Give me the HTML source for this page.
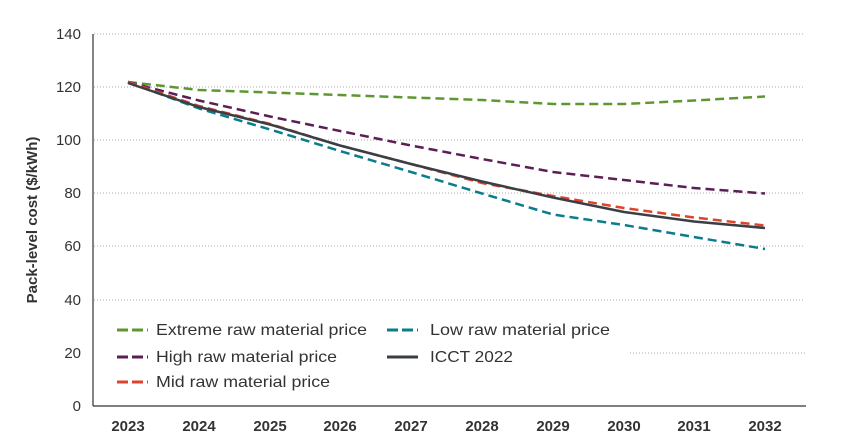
<!DOCTYPE html><html><head><style>body{margin:0;background:#fff}svg{display:block;font-family:"Liberation Sans",sans-serif}</style></head><body>
<svg width="847" height="446" viewBox="0 0 847 446">
<g stroke="#aaa" stroke-width="1" stroke-dasharray="1,2">
<line x1="94" y1="34" x2="805" y2="34"/><line x1="94" y1="87" x2="805" y2="87"/><line x1="94" y1="140" x2="805" y2="140"/><line x1="94" y1="193" x2="805" y2="193"/><line x1="94" y1="246" x2="805" y2="246"/><line x1="94" y1="300" x2="805" y2="300"/><line x1="630" y1="353" x2="805" y2="353"/>
</g>
<line x1="93" y1="34" x2="93" y2="406" stroke="#333" stroke-width="1.2"/>
<line x1="93" y1="406" x2="806" y2="406" stroke="#333" stroke-width="1.2"/>
<g font-size="15" fill="#333" text-anchor="end">
<text x="81" y="39">140</text><text x="81" y="92">120</text><text x="81" y="145">100</text><text x="81" y="198">80</text><text x="81" y="251">60</text><text x="81" y="305">40</text><text x="81" y="358">20</text><text x="81" y="411">0</text></g>
<g font-size="15" font-weight="bold" fill="#333" text-anchor="middle">
<text x="128" y="431">2023</text><text x="199" y="431">2024</text><text x="270" y="431">2025</text><text x="340" y="431">2026</text><text x="411" y="431">2027</text><text x="482" y="431">2028</text><text x="553" y="431">2029</text><text x="624" y="431">2030</text><text x="694" y="431">2031</text><text x="765" y="431">2032</text></g>
<text transform="translate(37,220) rotate(-90)" font-size="15" font-weight="bold" fill="#333" text-anchor="middle">Pack-level cost ($/kWh)</text>
<g fill="none" stroke-width="2.5">
<polyline stroke="#5e9732" stroke-dasharray="9,5" points="128,82 199,90 270,92.5 340,95 411,97.5 482,100 553,104 624,104 694,100.5 765,96.5"/>
<polyline stroke="#5c1f55" stroke-dasharray="9,5" points="128,82 199,100.5 270,116.5 340,131 411,145.5 482,159 553,172 624,180 694,188 765,193.5"/>
<polyline stroke="#0a7c8c" stroke-dasharray="9,5" points="128,82 199,108.5 270,129.5 340,151 411,172 482,193.5 553,214.5 624,225 694,237 765,249"/>
<polyline stroke="#e0432c" stroke-dasharray="9,5" points="128,82 199,106 270,124 340,145.5 411,164 482,183 553,196 624,208 694,217.5 765,225.5"/>
<polyline stroke="#3a3f45" points="128,83 199,107 270,124.5 340,145.5 411,164 482,181.5 553,197.5 624,212 694,221.5 765,228"/>
</g>
<g font-size="16" fill="#333">
<line x1="117" y1="330" x2="148" y2="330" stroke="#5e9732" stroke-width="3" stroke-dasharray="11,4"/><text x="156" y="335" textLength="211" lengthAdjust="spacingAndGlyphs">Extreme raw material price</text>
<line x1="387" y1="330" x2="418" y2="330" stroke="#0a7c8c" stroke-width="3" stroke-dasharray="11,4"/><text x="430" y="335" textLength="180" lengthAdjust="spacingAndGlyphs">Low raw material price</text>
<line x1="117" y1="357" x2="148" y2="357" stroke="#5c1f55" stroke-width="3" stroke-dasharray="11,4"/><text x="156" y="362" textLength="181" lengthAdjust="spacingAndGlyphs">High raw material price</text>
<line x1="387" y1="357" x2="418" y2="357" stroke="#3a3f45" stroke-width="3"/><text x="430" y="362" textLength="83" lengthAdjust="spacingAndGlyphs">ICCT 2022</text>
<line x1="117" y1="382" x2="148" y2="382" stroke="#e0432c" stroke-width="3" stroke-dasharray="11,4"/><text x="156" y="387" textLength="174" lengthAdjust="spacingAndGlyphs">Mid raw material price</text>
</g>
</svg></body></html>
